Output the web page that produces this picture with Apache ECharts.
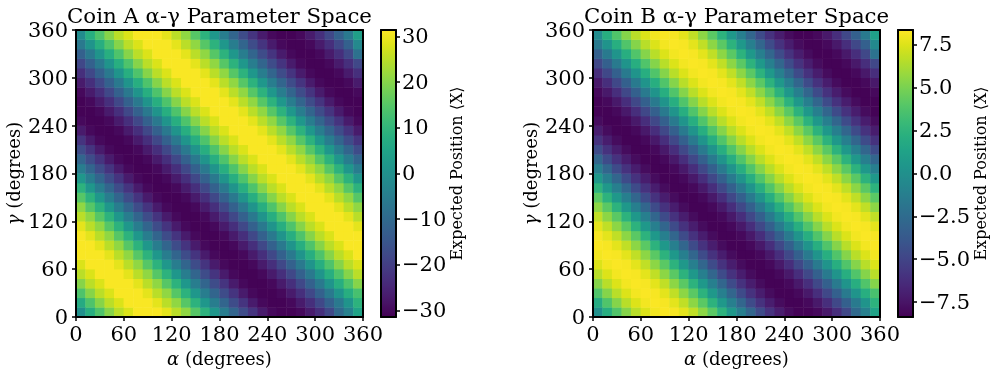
<!DOCTYPE html>
<html><head><meta charset="utf-8">
<style>html,body{margin:0;padding:0;background:#fff}#c{width:996px;height:374px}</style>
<script src="https://cdn.jsdelivr.net/npm/echarts@6/dist/echarts.min.js"></script>
</head><body><div id="c"></div>
<script>
const angleCells=[0,12,25,37,50,62,74,87,99,112,124,137,149,161,174,186,199,211,223,236,248,261,273,285,298,310,323,335,348,360];
const axisTicks=[0,60,120,180,240,300,360];
const coinATicks=[-30,-20,-10,0,10,20,30];
const coinBTicks=[-7.5,-5,-2.5,0,2.5,5,7.5];
const coinARange=[-31.4,31.4];
const coinBRange=[-8.37,8.37];
const coinA=[
[0,8,14,20,25,28,31,31,31,29,25,21,15,9,2,-5,-11,-17,-22,-27,-30,-31,-31,-30,-27,-23,-18,-10,-4,5],
[7,14,20,25,28,31,31,31,29,25,21,15,9,2,-5,-11,-17,-22,-27,-30,-31,-31,-30,-27,-23,-18,-12,-6,1,9],
[14,20,25,28,31,31,31,29,25,21,15,9,2,-5,-11,-17,-22,-27,-30,-31,-31,-30,-27,-23,-18,-12,-6,1,8,13],
[20,25,28,31,31,31,29,25,21,15,9,2,-5,-11,-17,-22,-27,-30,-31,-31,-30,-27,-23,-18,-12,-6,1,8,14,20],
[25,28,31,31,31,29,25,21,15,9,2,-5,-11,-17,-22,-27,-30,-31,-31,-30,-27,-23,-18,-12,-6,1,8,14,20,25],
[28,31,31,31,29,25,21,15,9,2,-5,-11,-17,-22,-27,-30,-31,-31,-30,-27,-23,-18,-12,-6,1,8,14,20,25,28],
[31,31,31,29,25,21,15,9,2,-5,-11,-17,-22,-27,-30,-31,-31,-30,-27,-23,-18,-12,-6,1,8,14,20,25,28,31],
[31,31,29,25,21,15,9,2,-5,-11,-17,-22,-27,-30,-31,-31,-30,-27,-23,-18,-12,-6,1,8,14,20,25,28,31,31],
[31,29,25,21,15,9,2,-5,-11,-17,-22,-27,-30,-31,-31,-30,-27,-23,-18,-12,-6,1,8,14,20,25,28,31,31,31],
[29,25,21,15,9,2,-5,-11,-17,-22,-27,-30,-31,-31,-30,-27,-23,-18,-12,-6,1,8,14,20,25,28,31,31,31,29],
[25,21,15,9,2,-5,-11,-17,-22,-27,-30,-31,-31,-30,-27,-23,-18,-12,-6,1,8,14,20,25,28,31,31,31,29,25],
[21,15,9,2,-5,-11,-17,-22,-27,-30,-31,-31,-30,-27,-23,-18,-12,-6,1,8,14,20,25,28,31,31,31,29,25,21],
[15,9,2,-5,-11,-17,-22,-27,-30,-31,-31,-30,-27,-23,-18,-12,-6,1,8,14,20,25,28,31,31,31,29,25,21,15],
[9,2,-5,-11,-17,-22,-27,-30,-31,-31,-30,-27,-23,-18,-12,-6,1,8,14,20,25,28,31,31,31,29,25,21,15,9],
[2,-5,-11,-17,-22,-27,-30,-31,-31,-30,-27,-23,-18,-12,-6,1,8,14,20,25,28,31,31,31,29,25,21,15,9,2],
[-5,-11,-17,-22,-27,-30,-31,-31,-30,-27,-23,-18,-12,-6,1,8,14,20,25,28,31,31,31,29,25,21,15,9,2,-5],
[-11,-17,-22,-27,-30,-31,-31,-30,-27,-23,-18,-12,-6,1,8,14,20,25,28,31,31,31,29,25,21,15,9,2,-5,-11],
[-17,-22,-27,-30,-31,-31,-30,-27,-23,-18,-12,-6,1,8,14,20,25,28,31,31,31,29,25,21,15,9,2,-5,-11,-17],
[-22,-27,-30,-31,-31,-30,-27,-23,-18,-12,-6,1,8,14,20,25,28,31,31,31,29,25,21,15,9,2,-5,-11,-17,-22],
[-27,-30,-31,-31,-30,-27,-23,-18,-12,-6,1,8,14,20,25,28,31,31,31,29,25,21,15,9,2,-5,-11,-17,-22,-27],
[-30,-31,-31,-30,-27,-23,-18,-12,-6,1,8,14,20,25,28,31,31,31,29,25,21,15,9,2,-5,-11,-17,-22,-27,-30],
[-31,-31,-30,-27,-23,-18,-12,-6,1,8,14,20,25,28,31,31,31,29,25,21,15,9,2,-5,-11,-17,-22,-27,-30,-31],
[-31,-30,-27,-23,-18,-12,-6,1,8,14,20,25,28,31,31,31,29,25,21,15,9,2,-5,-11,-17,-22,-27,-30,-31,-31],
[-30,-27,-23,-18,-12,-6,1,8,14,20,25,28,31,31,31,29,25,21,15,9,2,-5,-11,-17,-22,-27,-30,-31,-31,-30],
[-27,-23,-18,-12,-6,1,8,14,20,25,28,31,31,31,29,25,21,15,9,2,-5,-11,-17,-22,-27,-30,-31,-31,-30,-27],
[-23,-18,-12,-6,1,8,14,20,25,28,31,31,31,29,25,21,15,9,2,-5,-11,-17,-22,-27,-30,-31,-31,-30,-27,-23],
[-18,-12,-6,1,8,14,20,25,28,31,31,31,29,25,21,15,9,2,-5,-11,-17,-22,-27,-30,-31,-31,-30,-27,-23,-18],
[-12,-6,1,8,14,20,25,28,31,31,31,29,25,21,15,9,2,-5,-11,-17,-22,-27,-30,-31,-31,-30,-27,-23,-18,-8],
[-6,1,8,14,20,25,28,31,31,31,29,25,21,15,9,2,-5,-11,-17,-22,-27,-30,-31,-31,-30,-27,-23,-18,-12,-2],
[-1,8,14,20,25,28,31,31,31,29,25,21,15,9,2,-5,-11,-17,-22,-27,-30,-31,-31,-30,-27,-23,-18,-12,-6,4]
];
const coinB=[
[0,2.1,3.8,5.3,6.6,7.5,8.1,8.3,8.2,7.7,6.8,5.5,4.1,2.4,0.6,-1.2,-2.9,-4.6,-6,-7.1,-7.9,-8.3,-8.3,-8,-7.3,-6.2,-4.8,-2.7,-1.1,1.3],
[1.9,3.8,5.3,6.6,7.5,8.1,8.3,8.2,7.7,6.8,5.5,4.1,2.4,0.6,-1.2,-2.9,-4.6,-6,-7.1,-7.9,-8.3,-8.3,-8,-7.3,-6.2,-4.8,-3.3,-1.5,0.3,2.4],
[3.8,5.3,6.6,7.5,8.1,8.3,8.2,7.7,6.8,5.5,4.1,2.4,0.6,-1.2,-2.9,-4.6,-6,-7.1,-7.9,-8.3,-8.3,-8,-7.3,-6.2,-4.8,-3.3,-1.5,0.3,2.1,3.5],
[5.3,6.6,7.5,8.1,8.3,8.2,7.7,6.8,5.5,4.1,2.4,0.6,-1.2,-2.9,-4.6,-6,-7.1,-7.9,-8.3,-8.3,-8,-7.3,-6.2,-4.8,-3.3,-1.5,0.3,2.1,3.8,5.3],
[6.6,7.5,8.1,8.3,8.2,7.7,6.8,5.5,4.1,2.4,0.6,-1.2,-2.9,-4.6,-6,-7.1,-7.9,-8.3,-8.3,-8,-7.3,-6.2,-4.8,-3.3,-1.5,0.3,2.1,3.8,5.3,6.6],
[7.5,8.1,8.3,8.2,7.7,6.8,5.5,4.1,2.4,0.6,-1.2,-2.9,-4.6,-6,-7.1,-7.9,-8.3,-8.3,-8,-7.3,-6.2,-4.8,-3.3,-1.5,0.3,2.1,3.8,5.3,6.6,7.5],
[8.1,8.3,8.2,7.7,6.8,5.5,4.1,2.4,0.6,-1.2,-2.9,-4.6,-6,-7.1,-7.9,-8.3,-8.3,-8,-7.3,-6.2,-4.8,-3.3,-1.5,0.3,2.1,3.8,5.3,6.6,7.5,8.1],
[8.3,8.2,7.7,6.8,5.5,4.1,2.4,0.6,-1.2,-2.9,-4.6,-6,-7.1,-7.9,-8.3,-8.3,-8,-7.3,-6.2,-4.8,-3.3,-1.5,0.3,2.1,3.8,5.3,6.6,7.5,8.1,8.3],
[8.2,7.7,6.8,5.5,4.1,2.4,0.6,-1.2,-2.9,-4.6,-6,-7.1,-7.9,-8.3,-8.3,-8,-7.3,-6.2,-4.8,-3.3,-1.5,0.3,2.1,3.8,5.3,6.6,7.5,8.1,8.3,8.2],
[7.7,6.8,5.5,4.1,2.4,0.6,-1.2,-2.9,-4.6,-6,-7.1,-7.9,-8.3,-8.3,-8,-7.3,-6.2,-4.8,-3.3,-1.5,0.3,2.1,3.8,5.3,6.6,7.5,8.1,8.3,8.2,7.7],
[6.8,5.5,4.1,2.4,0.6,-1.2,-2.9,-4.6,-6,-7.1,-7.9,-8.3,-8.3,-8,-7.3,-6.2,-4.8,-3.3,-1.5,0.3,2.1,3.8,5.3,6.6,7.5,8.1,8.3,8.2,7.7,6.8],
[5.5,4.1,2.4,0.6,-1.2,-2.9,-4.6,-6,-7.1,-7.9,-8.3,-8.3,-8,-7.3,-6.2,-4.8,-3.3,-1.5,0.3,2.1,3.8,5.3,6.6,7.5,8.1,8.3,8.2,7.7,6.8,5.5],
[4.1,2.4,0.6,-1.2,-2.9,-4.6,-6,-7.1,-7.9,-8.3,-8.3,-8,-7.3,-6.2,-4.8,-3.3,-1.5,0.3,2.1,3.8,5.3,6.6,7.5,8.1,8.3,8.2,7.7,6.8,5.5,4.1],
[2.4,0.6,-1.2,-2.9,-4.6,-6,-7.1,-7.9,-8.3,-8.3,-8,-7.3,-6.2,-4.8,-3.3,-1.5,0.3,2.1,3.8,5.3,6.6,7.5,8.1,8.3,8.2,7.7,6.8,5.5,4.1,2.4],
[0.6,-1.2,-2.9,-4.6,-6,-7.1,-7.9,-8.3,-8.3,-8,-7.3,-6.2,-4.8,-3.3,-1.5,0.3,2.1,3.8,5.3,6.6,7.5,8.1,8.3,8.2,7.7,6.8,5.5,4.1,2.4,0.6],
[-1.2,-2.9,-4.6,-6,-7.1,-7.9,-8.3,-8.3,-8,-7.3,-6.2,-4.8,-3.3,-1.5,0.3,2.1,3.8,5.3,6.6,7.5,8.1,8.3,8.2,7.7,6.8,5.5,4.1,2.4,0.6,-1.2],
[-2.9,-4.6,-6,-7.1,-7.9,-8.3,-8.3,-8,-7.3,-6.2,-4.8,-3.3,-1.5,0.3,2.1,3.8,5.3,6.6,7.5,8.1,8.3,8.2,7.7,6.8,5.5,4.1,2.4,0.6,-1.2,-2.9],
[-4.6,-6,-7.1,-7.9,-8.3,-8.3,-8,-7.3,-6.2,-4.8,-3.3,-1.5,0.3,2.1,3.8,5.3,6.6,7.5,8.1,8.3,8.2,7.7,6.8,5.5,4.1,2.4,0.6,-1.2,-2.9,-4.6],
[-6,-7.1,-7.9,-8.3,-8.3,-8,-7.3,-6.2,-4.8,-3.3,-1.5,0.3,2.1,3.8,5.3,6.6,7.5,8.1,8.3,8.2,7.7,6.8,5.5,4.1,2.4,0.6,-1.2,-2.9,-4.6,-6],
[-7.1,-7.9,-8.3,-8.3,-8,-7.3,-6.2,-4.8,-3.3,-1.5,0.3,2.1,3.8,5.3,6.6,7.5,8.1,8.3,8.2,7.7,6.8,5.5,4.1,2.4,0.6,-1.2,-2.9,-4.6,-6,-7.1],
[-7.9,-8.3,-8.3,-8,-7.3,-6.2,-4.8,-3.3,-1.5,0.3,2.1,3.8,5.3,6.6,7.5,8.1,8.3,8.2,7.7,6.8,5.5,4.1,2.4,0.6,-1.2,-2.9,-4.6,-6,-7.1,-7.9],
[-8.3,-8.3,-8,-7.3,-6.2,-4.8,-3.3,-1.5,0.3,2.1,3.8,5.3,6.6,7.5,8.1,8.3,8.2,7.7,6.8,5.5,4.1,2.4,0.6,-1.2,-2.9,-4.6,-6,-7.1,-7.9,-8.3],
[-8.3,-8,-7.3,-6.2,-4.8,-3.3,-1.5,0.3,2.1,3.8,5.3,6.6,7.5,8.1,8.3,8.2,7.7,6.8,5.5,4.1,2.4,0.6,-1.2,-2.9,-4.6,-6,-7.1,-7.9,-8.3,-8.3],
[-8,-7.3,-6.2,-4.8,-3.3,-1.5,0.3,2.1,3.8,5.3,6.6,7.5,8.1,8.3,8.2,7.7,6.8,5.5,4.1,2.4,0.6,-1.2,-2.9,-4.6,-6,-7.1,-7.9,-8.3,-8.3,-8],
[-7.3,-6.2,-4.8,-3.3,-1.5,0.3,2.1,3.8,5.3,6.6,7.5,8.1,8.3,8.2,7.7,6.8,5.5,4.1,2.4,0.6,-1.2,-2.9,-4.6,-6,-7.1,-7.9,-8.3,-8.3,-8,-7.3],
[-6.2,-4.8,-3.3,-1.5,0.3,2.1,3.8,5.3,6.6,7.5,8.1,8.3,8.2,7.7,6.8,5.5,4.1,2.4,0.6,-1.2,-2.9,-4.6,-6,-7.1,-7.9,-8.3,-8.3,-8,-7.3,-6.2],
[-4.8,-3.3,-1.5,0.3,2.1,3.8,5.3,6.6,7.5,8.1,8.3,8.2,7.7,6.8,5.5,4.1,2.4,0.6,-1.2,-2.9,-4.6,-6,-7.1,-7.9,-8.3,-8.3,-8,-7.3,-6.2,-4.8],
[-3.3,-1.5,0.3,2.1,3.8,5.3,6.6,7.5,8.1,8.3,8.2,7.7,6.8,5.5,4.1,2.4,0.6,-1.2,-2.9,-4.6,-6,-7.1,-7.9,-8.3,-8.3,-8,-7.3,-6.2,-4.8,-2.1],
[-1.5,0.3,2.1,3.8,5.3,6.6,7.5,8.1,8.3,8.2,7.7,6.8,5.5,4.1,2.4,0.6,-1.2,-2.9,-4.6,-6,-7.1,-7.9,-8.3,-8.3,-8,-7.3,-6.2,-4.8,-3.3,-0.5],
[-0.3,2.1,3.8,5.3,6.6,7.5,8.1,8.3,8.2,7.7,6.8,5.5,4.1,2.4,0.6,-1.2,-2.9,-4.6,-6,-7.1,-7.9,-8.3,-8.3,-8,-7.3,-6.2,-4.8,-3.3,-1.5,1.1]
];
const viridis=['#440154','#481567','#482677','#453781','#404788','#39568c','#33638d','#2d708e','#287d8e','#238a8d','#1f968b','#20a387','#29af7f','#3cbb75','#55c667','#73d055','#95d840','#b8de29','#dce319','#fde725'];

const FONT='"DejaVu Serif"';
const LINE={show:true,onZero:false,lineStyle:{color:'#000',width:2}};
const TICK={show:true,length:4,lineStyle:{color:'#000',width:1.5}};
function cells(rows){const out=[];rows.forEach((r,j)=>r.forEach((v,i)=>out.push([i,j,v])));return out;}

const option={animation:false,backgroundColor:'#fff',title:[],grid:[],xAxis:[],yAxis:[],series:[],visualMap:[]};
function panel(name,rows,range,ticks,decimals,left,barLeft,seriesIdx){
  const g=option.grid.length;
  const top=30,size=287,barW=15;
  const labelFont={fontFamily:FONT,fontSize:21,color:'#000'};
  const nameFont={fontFamily:FONT,fontSize:18,color:'#000',rich:{i:{fontFamily:FONT,fontStyle:'italic',fontSize:18,color:'#000'}}};
  option.title.push({text:name,left:left+size/2,top:7,textAlign:'center',padding:0,textStyle:{fontFamily:FONT,fontWeight:'normal',fontSize:21.3,color:'#000'}});
  option.grid.push({left,top,width:size,height:size,containLabel:false,outerBoundsMode:'none'});
  option.grid.push({left:barLeft,top,width:barW,height:size,containLabel:false,outerBoundsMode:'none'});
  const x0=option.xAxis.length,y0=option.yAxis.length;
  option.xAxis.push({gridIndex:g,type:'category',position:'top',data:angleCells,axisLine:LINE,axisTick:{show:false},axisLabel:{show:false},splitLine:{show:false},z:6});
  option.yAxis.push({gridIndex:g,type:'category',position:'right',data:angleCells,axisLine:LINE,axisTick:{show:false},axisLabel:{show:false},splitLine:{show:false},z:6});
  option.xAxis.push({gridIndex:g,type:'value',position:'bottom',min:axisTicks[0],max:axisTicks[axisTicks.length-1],interval:60,
    name:'{i|α} (degrees)',nameLocation:'middle',nameGap:32,nameTextStyle:nameFont,
    axisLine:LINE,axisTick:TICK,axisLabel:Object.assign({margin:8},labelFont),splitLine:{show:false},z:6});
  option.yAxis.push({gridIndex:g,type:'value',position:'left',min:axisTicks[0],max:axisTicks[axisTicks.length-1],interval:60,
    name:'{i|γ} (degrees)',nameLocation:'middle',nameGap:47,nameTextStyle:nameFont,
    axisLine:LINE,axisTick:TICK,axisLabel:Object.assign({margin:8,verticalAlign:'top',lineHeight:3},labelFont),splitLine:{show:false},z:6});
  option.xAxis.push({gridIndex:g+1,type:'value',position:'top',min:0,max:1,axisLine:LINE,axisTick:{show:false},axisLabel:{show:false},splitLine:{show:false},z:6});
  option.xAxis.push({gridIndex:g+1,type:'value',position:'bottom',min:0,max:1,axisLine:LINE,axisTick:{show:false},axisLabel:{show:false},splitLine:{show:false},z:6});
  option.yAxis.push({gridIndex:g+1,type:'value',position:'left',min:range[0],max:range[1],axisLine:LINE,axisTick:{show:false},axisLabel:{show:false},splitLine:{show:false},z:6});
  option.yAxis.push({gridIndex:g+1,type:'value',position:'right',min:range[0],max:range[1],
    name:'Expected Position ⟨X⟩',nameLocation:'middle',nameRotate:90,nameGap:52,nameTextStyle:{fontFamily:FONT,fontSize:16,color:'#000'},
    axisLine:LINE,axisTick:{show:true,length:4,lineStyle:{color:'#000',width:1.5},customValues:ticks},
    axisLabel:Object.assign({margin:6,verticalAlign:'top',lineHeight:2,customValues:ticks,formatter:v=>v.toFixed(decimals).replace('-','−')},labelFont),
    splitLine:{show:false},z:6});
  option.series.push({type:'heatmap',xAxisIndex:x0,yAxisIndex:y0,data:cells(rows),progressive:0,itemStyle:{borderWidth:0},emphasis:{disabled:true}});
  option.visualMap.push({type:'continuous',seriesIndex:seriesIdx,min:range[0],max:range[1],left:barLeft,top,itemWidth:barW,itemHeight:size,padding:0,text:null,calculable:false,hoverLink:false,showLabel:false,realtime:false,inRange:{color:viridis},textStyle:{color:'transparent',fontSize:1},z:4});
}
panel('Coin A α-γ Parameter Space',coinA,coinARange,coinATicks,0,76,381,0);
panel('Coin B α-γ Parameter Space',coinB,coinBRange,coinBTicks,1,593,898,1);
echarts.init(document.getElementById('c'),null,{renderer:'canvas'}).setOption(option);
</script></body></html>
